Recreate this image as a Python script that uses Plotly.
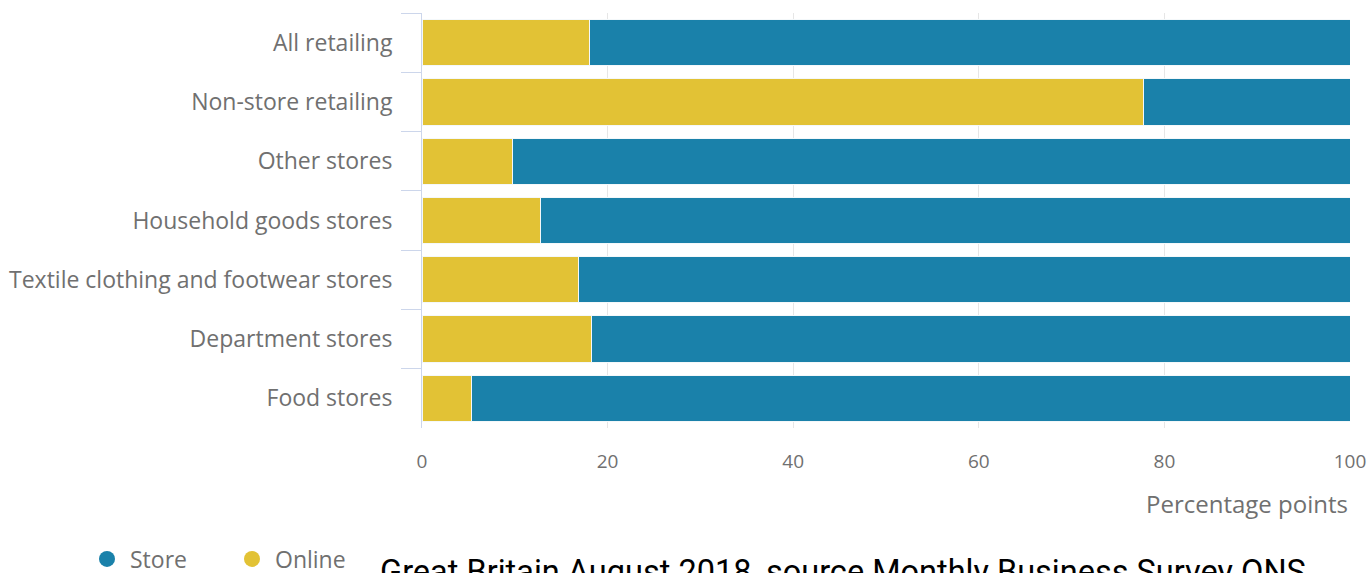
import plotly.graph_objects as go

categories = ["All retailing", "Non-store retailing", "Other stores", "Household goods stores",
              "Textile clothing and footwear stores", "Department stores", "Food stores"]
online = [18.1, 77.8, 9.7, 12.8, 16.9, 18.3, 5.3]
store = [81.9, 22.2, 90.3, 87.2, 83.1, 81.7, 94.7]
x_ticks = [0, 20, 40, 60, 80, 100]

BLUE = "#1a81aa"
YELLOW = "#e2c235"
GREY = "#707070"
FONT = "Open Sans"

W, H = 1372, 573
L, R, T, B = 422, 22, 13, 145
PW, PH = W - L - R, H - T - B


def px_x(p):
    return (p - L) / PW


def px_y(p):
    return (H - B - p) / PH


fig = go.Figure()
fig.add_trace(go.Bar(y=categories, x=online, orientation="h", name="Online",
                     marker=dict(color=YELLOW, line=dict(color="#f4f8fa", width=1)),
                     showlegend=False))
fig.add_trace(go.Bar(y=categories, x=store, orientation="h", name="Store",
                     marker=dict(color=BLUE, line=dict(color="#f4f8fa", width=1)),
                     showlegend=False))
fig.add_trace(go.Scatter(x=[None], y=[None], mode="markers", name="Store",
                         marker=dict(symbol="circle", size=22, color=BLUE)))
fig.add_trace(go.Scatter(x=[None], y=[None], mode="markers", name="Online",
                         marker=dict(symbol="circle", size=22, color=YELLOW)))

fig.update_layout(
    width=W, height=H,
    margin=dict(l=L, r=R, t=T, b=B, autoexpand=False),
    barmode="stack", bargap=0.22,
    plot_bgcolor="white", paper_bgcolor="white",
    font=dict(family=FONT, color=GREY, size=16),
    legend=dict(orientation="h", xref="container", yref="container",
                x=84 / W, y=(H - 559) / H, yanchor="middle", xanchor="left",
                font=dict(size=23, color=GREY, family=FONT), traceorder="normal",
                itemwidth=36, entrywidth=94, bgcolor="rgba(0,0,0,0)"),
    xaxis=dict(range=[0, 100], tickvals=x_ticks, showgrid=True, gridcolor="#e6e6e6",
               zeroline=False, showline=False, ticks="", ticklabelstandoff=20,
               tickfont=dict(size=19, color=GREY), automargin=False),
    yaxis=dict(categoryorder="array", categoryarray=categories, autorange="reversed",
               showline=True, linecolor="#ccd6eb", linewidth=1,
               ticks="outside", tickson="boundaries", ticklen=20, tickcolor="#ccd6eb",
               ticklabelstandoff=24, tickfont=dict(size=23, color=GREY), showgrid=False,
               automargin=False),
    annotations=[
        dict(text="Percentage points", x=1, xref="paper", xanchor="right",
             y=px_y(503), yref="paper", yanchor="middle", showarrow=False,
             font=dict(size=24, color=GREY, family=FONT)),
        dict(text="Great Britain August 2018, source Monthly Business Survey ONS",
             x=px_x(378), xref="paper", xanchor="left",
             y=px_y(551), yref="paper", yanchor="top", showarrow=False,
             font=dict(size=32.5, color="#000000", family="Roboto")),
    ],
)

fig.write_html("out.html", post_script="document.body.style.margin='0';",
               config={"displayModeBar": False})
